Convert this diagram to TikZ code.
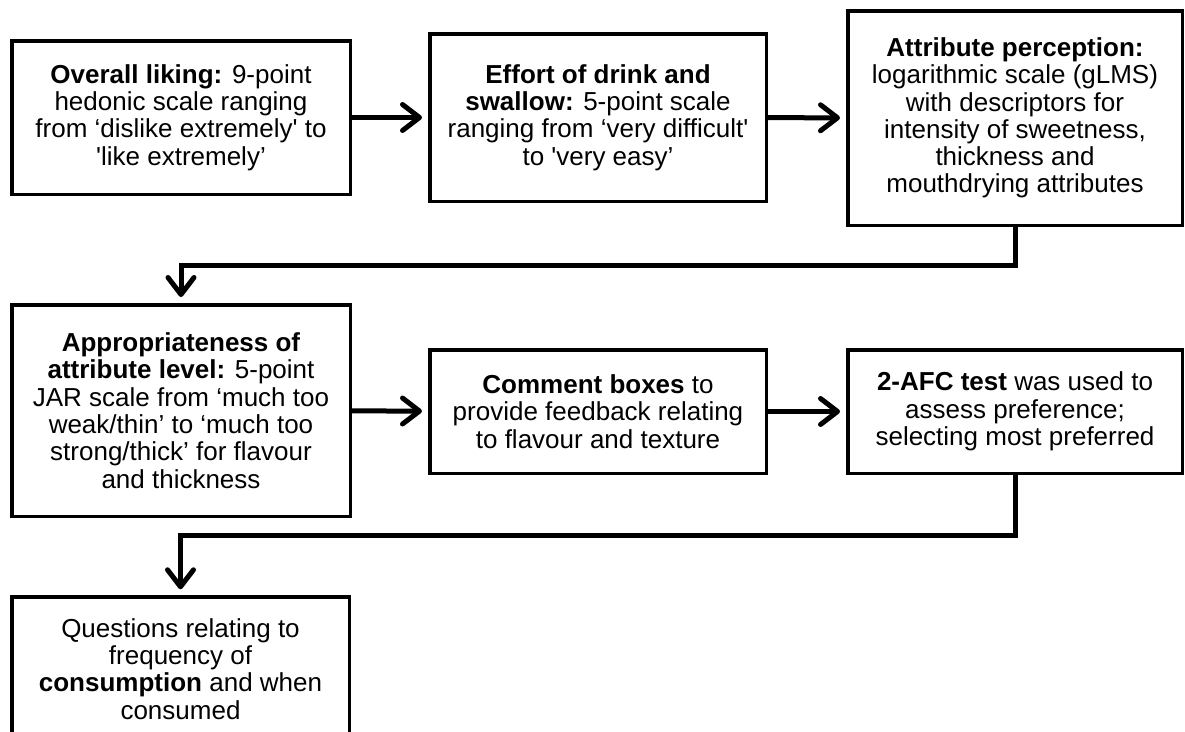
\documentclass[tikz,border=0pt]{standalone}
\usepackage{fontspec}
\setmainfont{Liberation Sans}
\usetikzlibrary{arrows.meta}

\begin{document}
\begin{tikzpicture}[x=1pt,y=-1pt,
  box/.style={draw=black,line width=3.5pt,fill=white,align=center,inner sep=0pt,
    font=\fontsize{26}{27.3}\selectfont},
  arr/.style={line width=5pt,-{Straight Barb[length=17pt,width=26pt,line cap=round,line join=round]},shorten >=6pt}]
\useasboundingbox (0,0) rectangle (1185,731);

%top row
\node[box,minimum width=338.5pt,minimum height=153.5pt] (liking) at (181,117.5)
  {\textbf{Overall liking:} 9-point\\hedonic scale ranging\\from ‘dislike extremely\textquotesingle{} to\\\textquotesingle like extremely’};
\node[box,minimum width=336.5pt,minimum height=167.5pt] (effort) at (598,117.5)
  {\textbf{Effort of drink and}\\\textbf{swallow:} 5-point scale\\ranging from ‘very difficult\textquotesingle\\to \textquotesingle very easy’};
\node[box,minimum width=334.5pt,minimum height=214.5pt] (percept) at (1015,118)
  {\textbf{Attribute perception:}\\logarithmic scale (gLMS)\\with descriptors for\\intensity of sweetness,\\thickness and\\mouthdrying attributes};

%middle row
\node[box,minimum width=338.5pt,minimum height=211.5pt] (jar) at (181,410.5)
  {\textbf{Appropriateness of}\\\textbf{attribute level:} 5-point\\JAR scale from ‘much too\\weak/thin’ to ‘much too\\strong/thick’ for flavour\\and thickness};
\node[box,minimum width=336.5pt,minimum height=123.5pt] (comment) at (598,411.5)
  {\textbf{Comment boxes} to\\provide feedback relating\\to flavour and texture};
\node[box,minimum width=334.5pt,minimum height=123.5pt] (afc) at (1015,411.5)
  {\textbf{2-AFC test} was used to\\assess preference;\\selecting most preferred};

%bottom
\node[box,minimum width=337.5pt,minimum height=144pt] (freq) at (180.5,669)
  {Questions relating to\\frequency of\\\textbf{consumption} and when\\consumed};

\draw[arr] (liking) -- (effort);
\draw[arr] (effort) -- (percept);
\draw[arr] (percept.south) -- ++(0,38) -| (jar.north);
\draw[arr] (jar) -- (comment);
\draw[arr] (comment) -- (afc);
\draw[arr] (afc.south) -- ++(0,60) -| (freq.north);
\end{tikzpicture}
\end{document}
